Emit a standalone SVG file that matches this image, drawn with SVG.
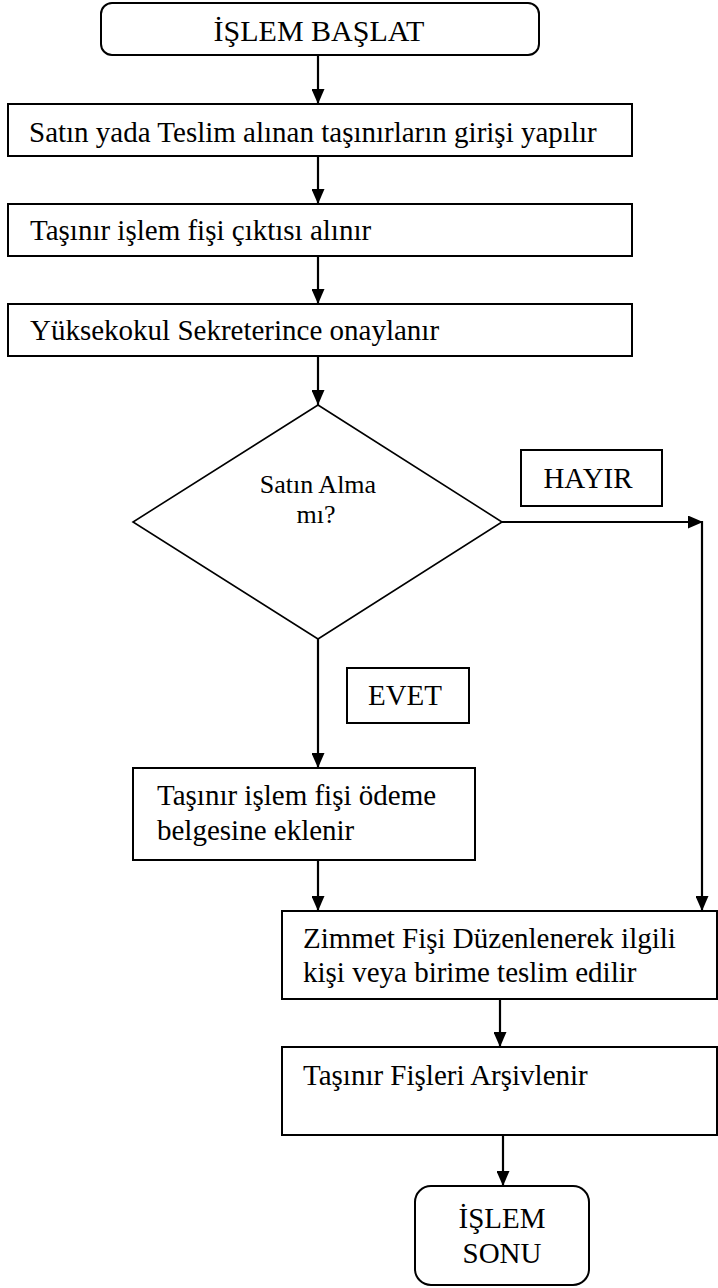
<svg xmlns="http://www.w3.org/2000/svg" width="718" height="1288" viewBox="0 0 718 1288">
<style>
.box{fill:#fff;stroke:#000;stroke-width:2}
.dia{fill:#fff;stroke:#000;stroke-width:1.6}
.t{font-family:"Liberation Serif","Times New Roman",serif;font-size:29px;fill:#000}
.ts{font-family:"Liberation Serif","Times New Roman",serif;font-size:26px;fill:#000}
.c{text-anchor:middle}
.ln{stroke:#000;stroke-width:2.2;fill:none}
</style>
<defs>
<marker id="ah" viewBox="0 0 10 10" refX="10" refY="5" markerWidth="15" markerHeight="13" markerUnits="userSpaceOnUse" orient="auto" preserveAspectRatio="none">
<path d="M0,0 L10,5 L0,10 z" fill="#000"/>
</marker>
</defs>
<rect width="718" height="1288" fill="#fff"/>
<g id="connectors">
<line class="ln" x1="318" y1="55" x2="318" y2="104" marker-end="url(#ah)"/>
<line class="ln" x1="318" y1="156" x2="318" y2="204" marker-end="url(#ah)"/>
<line class="ln" x1="318" y1="256" x2="318" y2="304" marker-end="url(#ah)"/>
<line class="ln" x1="318" y1="356" x2="318" y2="405" marker-end="url(#ah)"/>
<line class="ln" x1="318" y1="639" x2="318" y2="768" marker-end="url(#ah)"/>
<line class="ln" x1="502" y1="522" x2="703" y2="522" marker-end="url(#ah)"/>
<line class="ln" x1="702" y1="521" x2="702" y2="911" marker-end="url(#ah)"/>
<line class="ln" x1="318" y1="860" x2="318" y2="911" marker-end="url(#ah)"/>
<line class="ln" x1="500" y1="999" x2="500" y2="1047" marker-end="url(#ah)"/>
<line class="ln" x1="503" y1="1135" x2="503" y2="1186" marker-end="url(#ah)"/>
</g>
<g id="start">
<rect class="box" x="101" y="3" width="438" height="52" rx="11"/>
<text class="t c" x="319" y="41" style="font-size:30px">İŞLEM BAŞLAT</text>
</g>
<g id="n1">
<rect class="box" x="8" y="104" width="624" height="52"/>
<text class="t" x="29" y="142">Satın yada Teslim alınan taşınırların girişi yapılır</text>
</g>
<g id="n2">
<rect class="box" x="8" y="204" width="624" height="52"/>
<text class="t" x="30" y="240">Taşınır işlem fişi çıktısı alınır</text>
</g>
<g id="n3">
<rect class="box" x="8" y="304" width="624" height="52"/>
<text class="t" x="30" y="340">Yüksekokul Sekreterince onaylanır</text>
</g>
<g id="decision">
<polygon class="dia" points="318,405 502,522 318,639 133,522"/>
<text class="ts c" x="318" y="493">Satın Alma</text>
<text class="ts c" x="316" y="523">mı?</text>
</g>
<g id="hayir">
<rect class="box" x="521" y="450" width="141" height="56"/>
<text class="t c" x="588" y="488">HAYIR</text>
</g>
<g id="evet">
<rect class="box" x="347" y="668" width="122" height="55"/>
<text class="t c" x="405" y="705">EVET</text>
</g>
<g id="n4">
<rect class="box" x="133" y="768" width="342" height="92"/>
<text class="t" x="157" y="805">Taşınır işlem fişi ödeme</text>
<text class="t" x="157" y="840">belgesine eklenir</text>
</g>
<g id="n5">
<rect class="box" x="282" y="911" width="435" height="88"/>
<text class="t" x="303" y="948">Zimmet Fişi Düzenlenerek ilgili</text>
<text class="t" x="303" y="982">kişi veya birime teslim edilir</text>
</g>
<g id="n6">
<rect class="box" x="282" y="1047" width="435" height="88"/>
<text class="t" x="303" y="1085">Taşınır Fişleri Arşivlenir</text>
</g>
<g id="end">
<rect class="box" x="415" y="1186" width="174" height="99" rx="16"/>
<text class="t c" x="502" y="1228">İŞLEM</text>
<text class="t c" x="502" y="1263">SONU</text>
</g>
</svg>
